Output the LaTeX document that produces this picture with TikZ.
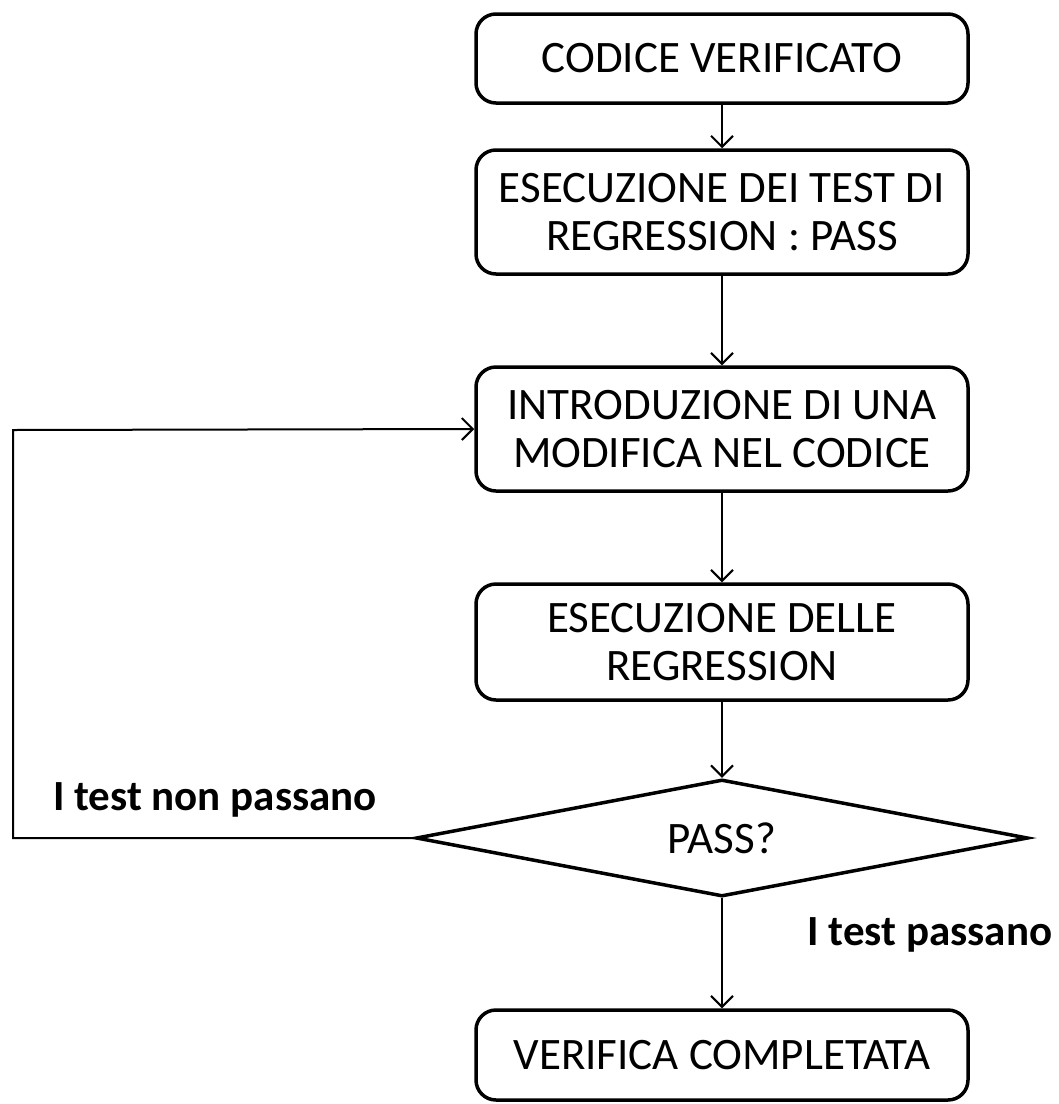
\documentclass[tikz,border=0pt]{standalone}
\usepackage{fontspec}
\setmainfont{Carlito}
\usetikzlibrary{shapes.geometric,arrows.meta}

\begin{document}
\begin{tikzpicture}[x=1pt,y=-1pt,
  stepbox/.style={draw,line width=3.5pt,rounded corners=20pt,
    minimum width=492pt,align=center,inner sep=0pt,
    font=\fontsize{45}{48}\selectfont},
  decision/.style={draw,diamond,line width=3.5pt,aspect=5.1,
    minimum width=612pt,minimum height=117pt,inner sep=0pt,
    font=\fontsize{45}{48}\selectfont},
  flow/.style={line width=2pt,-{Straight Barb[length=11pt,width=22pt,line width=2pt]}},
  looplabel/.style={font=\bfseries\fontsize{43}{48}\selectfont,inner sep=0pt}
]
\useasboundingbox (0,0) rectangle (1059,1104);

\node[stepbox,minimum height=89pt]  (verificato) at (722,58.5) {CODICE VERIFICATO};
\node[stepbox,minimum height=124pt] (esecpass)   at (722,212)  {ESECUZIONE DEI TEST DI\\REGRESSION : PASS};
\node[stepbox,minimum height=124pt] (modifica)   at (722,429)  {INTRODUZIONE DI UNA\\MODIFICA NEL CODICE};
\node[stepbox,minimum height=116pt] (esecreg)    at (722,642)  {ESECUZIONE DELLE\\REGRESSION};
\node[decision] (pass) at (722,838) {PASS?};
\node[stepbox,minimum height=90pt]  (completata) at (722,1055) {VERIFICA COMPLETATA};

\coordinate (loopbot) at (13,838);
\coordinate (looptop) at (13,430);

\draw[flow] (verificato) -- (esecpass);
\draw[flow] (esecpass) -- (modifica);
\draw[flow] (modifica) -- (esecreg);
\draw[flow] (esecreg) -- (pass);
\draw[flow] (pass) -- (completata);
\draw[flow] (pass.west) -- (loopbot) -- (looptop) -- (modifica.west);

\node[looplabel] (nonpassano) at (215,800) {I test non passano};
\node[looplabel] (passano) at (930,935) {I test passano};
\end{tikzpicture}
\end{document}
